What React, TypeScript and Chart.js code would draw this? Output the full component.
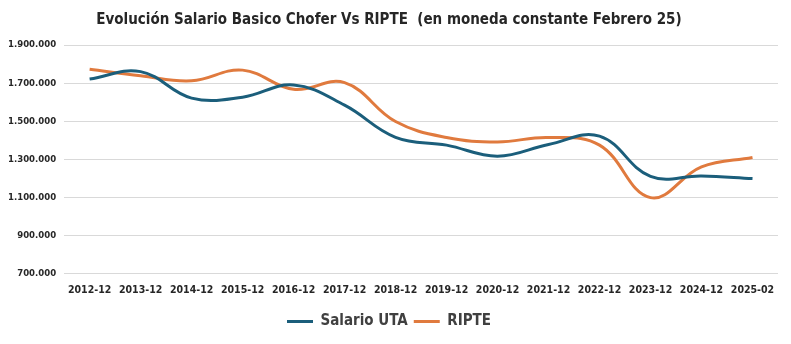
import React, { useEffect, useRef } from "react";
import { Chart, registerables } from "chart.js";

Chart.register(...registerables);

const categories = [
  "2012-12", "2013-12", "2014-12", "2015-12", "2016-12", "2017-12", "2018-12",
  "2019-12", "2020-12", "2021-12", "2022-12", "2023-12", "2024-12", "2025-02",
];
const salarioUTA = [
  1721000, 1760000, 1621000, 1626000, 1690000, 1584000, 1415000,
  1374000, 1316000, 1377000, 1421000, 1210000, 1212000, 1198000,
];
const ripte = [
  1772000, 1738000, 1712000, 1768000, 1667000, 1702000, 1498000,
  1414000, 1391000, 1414000, 1374000, 1098000, 1260000, 1309000,
];
const yMin = 700000;
const yMax = 1900000;
const yStep = 200000;
const titleText = "Evolución Salario Basico Chofer Vs RIPTE  (en moneda constante Febrero 25)";

const FONT = '"DejaVu Sans Condensed", "Liberation Sans Narrow", sans-serif';

const fmt = (v: number) => Math.round(v).toString().replace(/\B(?=(\d{3})+(?!\d))/g, ".");

export default function App() {
  const ref = useRef<HTMLCanvasElement | null>(null);
  useEffect(() => {
    document.body.style.margin = "0";
    const ctx = ref.current!.getContext("2d")!;
    const chart = new Chart(ctx, {
      type: "line",
      data: {
        labels: categories,
        datasets: [
          {
            label: "Salario UTA",
            data: salarioUTA,
            borderColor: "#1b5e7b",
            backgroundColor: "#1b5e7b",
            borderWidth: 3,
            pointRadius: 0,
            tension: 0.4,
          },
          {
            label: "RIPTE",
            data: ripte,
            borderColor: "#e07a3e",
            backgroundColor: "#e07a3e",
            borderWidth: 3,
            pointRadius: 0,
            tension: 0.4,
          },
        ],
      },
      options: {
        animation: false,
        responsive: false,
        layout: { padding: { top: 11, right: 13, left: 0, bottom: 5 } },
        plugins: {
          title: {
            display: true,
            text: titleText,
            color: "#262626",
            font: { family: FONT, size: 15, weight: "bold" },
            padding: { top: 0, bottom: 16 },
          },
          legend: {
            position: "bottom",
            labels: {
              usePointStyle: true,
              pointStyle: "line",
              pointStyleWidth: 26,
              color: "#404040",
              font: { family: FONT, size: 15, weight: "bold" },
              padding: 6,
            },
          },
          tooltip: { enabled: false },
        },
        scales: {
          x: {
            offset: true,
            grid: { display: false, drawTicks: false },
            border: { display: false },
            ticks: {
              color: "#262626",
              font: { family: FONT, size: 10.5, weight: "bold" },
              maxRotation: 0,
              autoSkip: false,
              padding: 11,
            },
          },
          y: {
            min: yMin,
            max: yMax,
            grid: { color: "#d9d9d9", lineWidth: 1, drawTicks: false },
            border: { display: false },
            ticks: {
              stepSize: yStep,
              color: "#262626",
              font: { family: FONT, size: 9.5, weight: "bold" },
              padding: 8,
              callback: (v: any) => fmt(Number(v)),
            },
          },
        },
      },
    });
    return () => chart.destroy();
  }, []);
  return (
    <div style={{ position: "absolute", left: 0, top: 0, width: 791, height: 344, background: "#fff" }}>
      <canvas ref={ref} width={791} height={344} />
    </div>
  );
}
